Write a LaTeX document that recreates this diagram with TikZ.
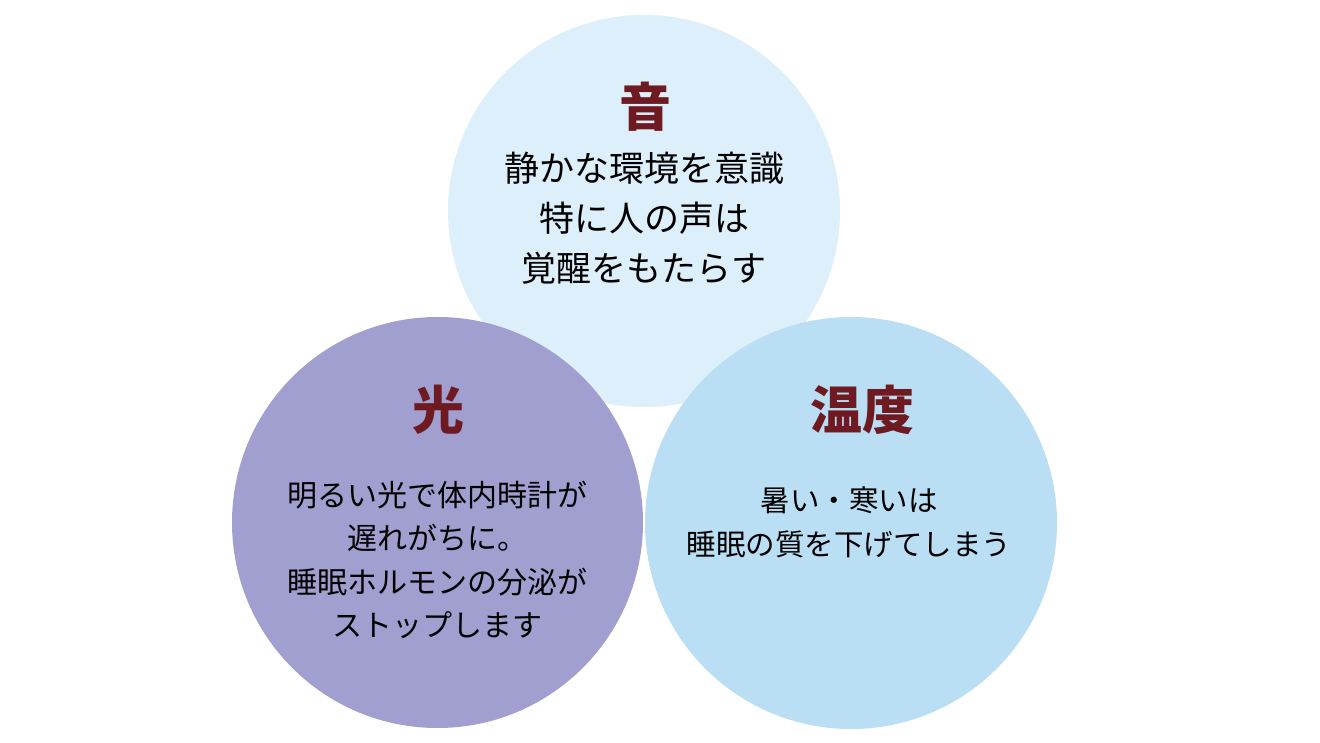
\documentclass[tikz,border=0pt]{standalone}
\usepackage{fontspec}
\setmainfont{Noto Sans CJK JP}
\usepackage{xcolor}
\usetikzlibrary{positioning}

\definecolor{soundbg}{HTML}{DCEFFA}
\definecolor{lightbg}{HTML}{A09FCF}
\definecolor{tempbg}{HTML}{BADFF5}
\definecolor{headred}{HTML}{6E1A20}

\begin{document}
\begin{tikzpicture}[
  x=1pt, y=-1pt,
  disc/.style={circle, draw=none, inner sep=0pt},
  head/.style={inner sep=0pt, text=headred, font=\fontsize{52}{60}\selectfont\bfseries},
  body/.style={inner sep=0pt, align=center, text=black}
]
\useasboundingbox[fill=white] (0,0) rectangle (1320,743);
% circles
\node[disc, fill=soundbg, minimum size=392pt] (sound) at (644,211) {};
\node[disc, fill=lightbg, minimum size=411pt] (light) at (437.5,522.5) {};
\node[disc, fill=tempbg,  minimum size=412pt] (temp)  at (851,523) {};
% headings
\node[head] (soundhead) at (645,107) {音};
\node[head] (lighthead) at (438,410) {光};
\node[head] (temphead)  at (862,410) {温度};
% texts
\node[body, font=\fontsize{35}{50}\selectfont] (soundtxt) at (644,218)
  {静かな環境を意識\\特に人の声は\\覚醒をもたらす};
\node[body, font=\fontsize{30}{43.5}\selectfont] (lighttxt) at (437,560)
  {明るい光で体内時計が\\遅れがちに。\\睡眠ホルモンの分泌が\\ストップします};
\node[body, font=\fontsize{29.5}{44}\selectfont] (temptxt) at (849,522)
  {暑い・寒いは\\睡眠の質を下げてしまう};
\end{tikzpicture}
\end{document}
